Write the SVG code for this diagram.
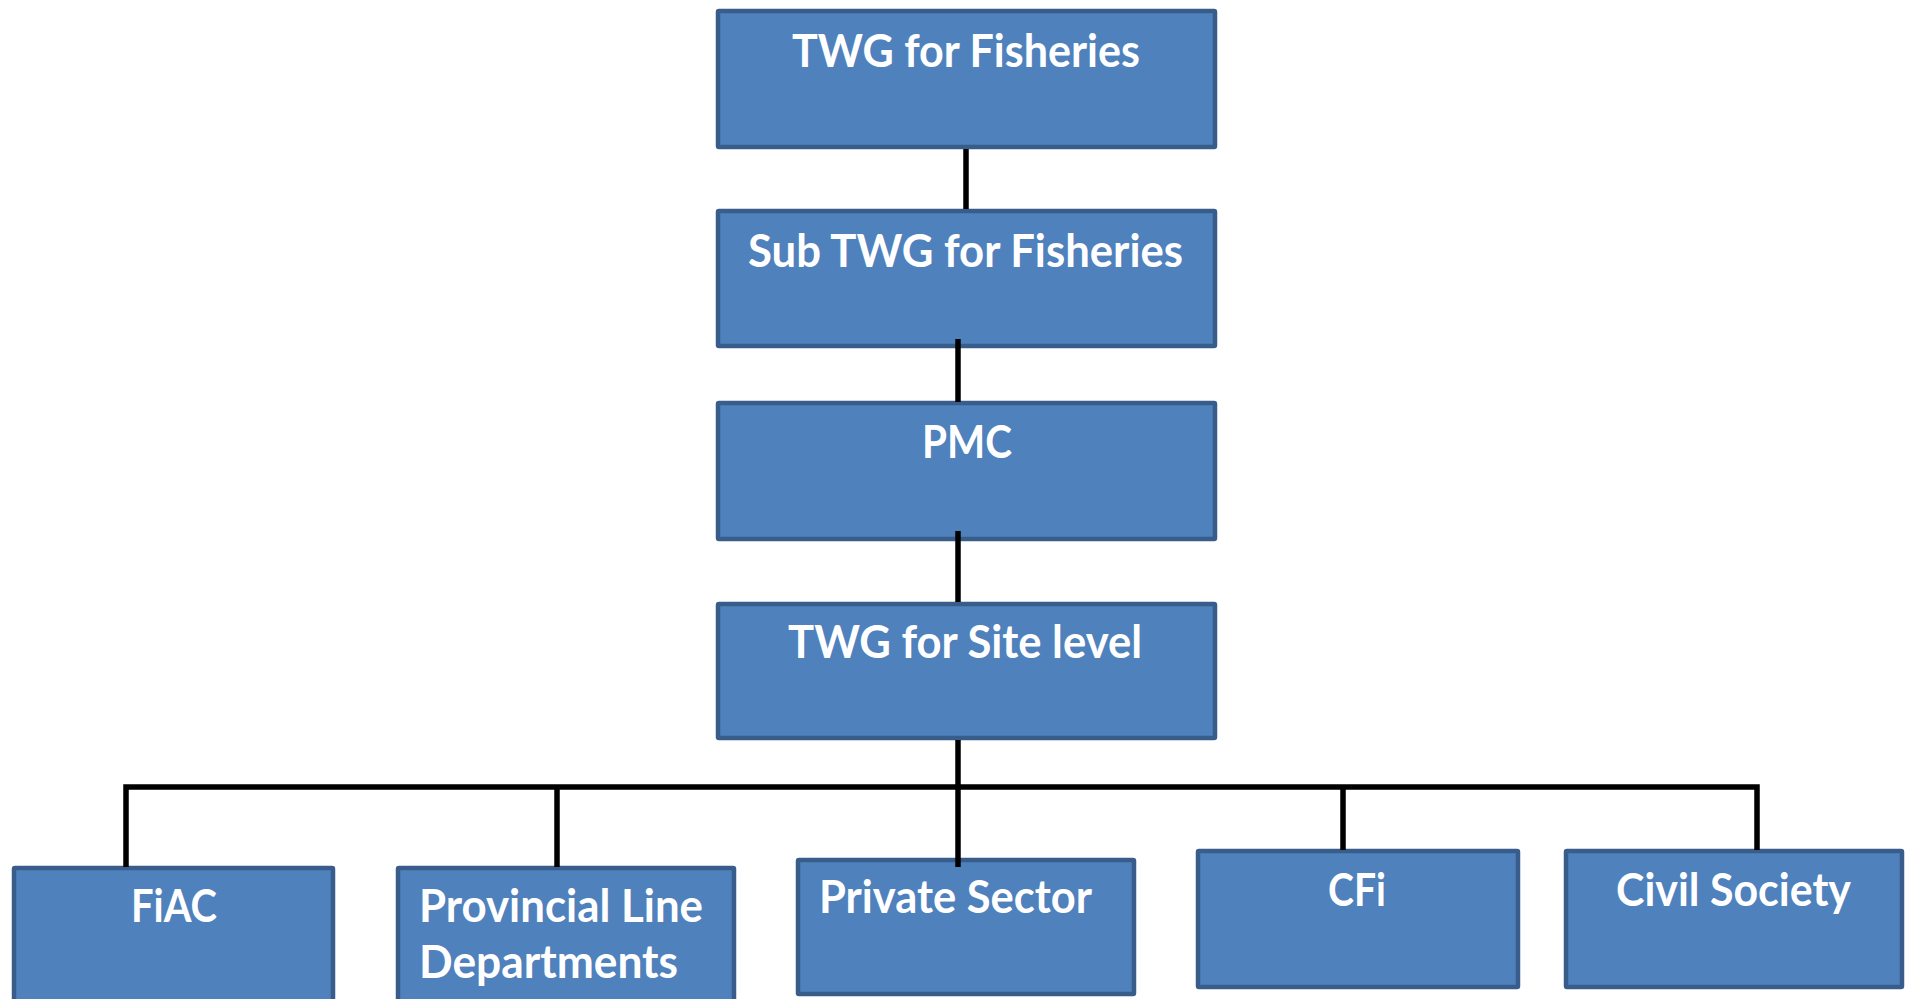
<svg xmlns="http://www.w3.org/2000/svg" width="1909" height="999" viewBox="0 0 1909 999">
<style>
.box{fill:#4F81BD;stroke:#385D8A;stroke-width:4.5}
.lbl{font-family:Lato,"Open Sans","Liberation Sans",sans-serif;font-weight:bold;font-size:45px;fill:#FFFFFF}
.con{fill:none;stroke:#000000;stroke-width:5.5}
</style>
<rect width="1909" height="999" fill="#FFFFFF"/>
<g id="node-twg-fisheries">
<rect class="box" x="718" y="11" width="497" height="136" rx="1"/>
<text class="lbl" x="792" y="67" textLength="348" lengthAdjust="spacingAndGlyphs">TWG for Fisheries</text>
</g>
<g id="node-sub-twg">
<rect class="box" x="718" y="211" width="497" height="135" rx="1"/>
<text class="lbl" x="748" y="267" textLength="435" lengthAdjust="spacingAndGlyphs">Sub TWG for Fisheries</text>
</g>
<g id="node-pmc">
<rect class="box" x="718" y="403" width="497" height="136" rx="1"/>
<text class="lbl" x="922" y="458" textLength="90" lengthAdjust="spacingAndGlyphs">PMC</text>
</g>
<g id="node-twg-site">
<rect class="box" x="718" y="604" width="497" height="134" rx="1"/>
<text class="lbl" x="788" y="658" textLength="354" lengthAdjust="spacingAndGlyphs">TWG for Site level</text>
</g>
<g id="node-fiac">
<rect class="box" x="14" y="868" width="319" height="150" rx="1"/>
<text class="lbl" x="131" y="922" textLength="86" lengthAdjust="spacingAndGlyphs">FiAC</text>
</g>
<g id="node-provincial">
<rect class="box" x="398" y="868" width="336" height="150" rx="1"/>
<text class="lbl" x="419" y="922" textLength="284" lengthAdjust="spacingAndGlyphs">Provincial Line</text>
<text class="lbl" x="419" y="978" textLength="259" lengthAdjust="spacingAndGlyphs">Departments</text>
</g>
<g id="node-private">
<rect class="box" x="798" y="860" width="336" height="134" rx="1"/>
<text class="lbl" x="819" y="913" textLength="273" lengthAdjust="spacingAndGlyphs">Private Sector</text>
</g>
<g id="node-cfi">
<rect class="box" x="1198" y="851" width="320" height="136" rx="1"/>
<text class="lbl" x="1328" y="906" textLength="58" lengthAdjust="spacingAndGlyphs">CFi</text>
</g>
<g id="node-civil">
<rect class="box" x="1566" y="851" width="336" height="136" rx="1"/>
<text class="lbl" x="1616" y="906" textLength="235" lengthAdjust="spacingAndGlyphs">Civil Society</text>
</g>
<g id="connectors">
<path class="con" d="M966 149 V209"/>
<path class="con" d="M958 339 V402"/>
<path class="con" d="M958 531 V602"/>
<path class="con" d="M958 740 V867"/>
<path class="con" d="M126 867 V787 H1757 V850"/>
<path class="con" d="M557 787 V867"/>
<path class="con" d="M1343 787 V850"/>
</g>
</svg>
